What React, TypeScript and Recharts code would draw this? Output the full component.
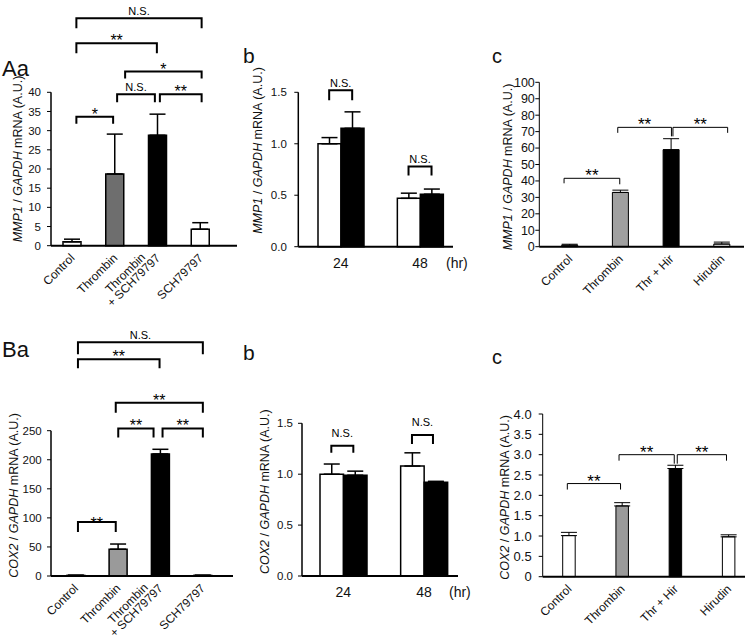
import React from 'react'
import { BarChart, Bar, XAxis, YAxis, ErrorBar, Cell, ReferenceLine } from 'recharts'

const FONT = '"Liberation Sans", Arial, sans-serif'

// categories / tick labels
const groupsA = ['Control', 'Thrombin', 'Thrombin\n+ SCH79797', 'SCH79797']
const groupsB = ['24', '48']
const groupsC = ['Control', 'Thrombin', 'Thr + Hir', 'Hirudin']

// MMP1 row
const mmp1A = [1.0, 18.7, 28.8, 4.3]
const mmp1AErr = [0.7, 10.4, 5.5, 1.7]
const mmp1BCtrl = [1.0, 0.47]
const mmp1BCtrlErr = [0.06, 0.05]
const mmp1BTreat = [1.15, 0.51]
const mmp1BTreatErr = [0.16, 0.05]
const mmp1C = [0.9, 33.0, 59.0, 1.6]
const mmp1CErr = [0.6, 1.4, 6.7, 1.2]

// COX2 row
const cox2A = [1.0, 46, 210, 1.0]
const cox2AErr = [0.4, 9, 8, 0.4]
const cox2BCtrl = [1.0, 1.08]
const cox2BCtrlErr = [0.1, 0.13]
const cox2BTreat = [0.99, 0.92]
const cox2BTreatErr = [0.04, 0.01]
const cox2C = [1.01, 1.74, 2.66, 0.98]
const cox2CErr = [0.08, 0.08, 0.08, 0.05]

// y ticks
const ticksAa = [0, 5, 10, 15, 20, 25, 30, 35, 40]
const ticksRatio = [0, 0.5, 1, 1.5]
const ticksAc = [0, 10, 20, 30, 40, 50, 60, 70, 80, 90, 100]
const ticksBa = [0, 50, 100, 150, 200, 250]
const ticksBc = [0, 0.5, 1, 1.5, 2, 2.5, 3, 3.5, 4]

const one = (names: string[], v: number[], e: number[]) =>
  names.map((name, i) => ({ name, v0: v[i], e0: [0, e[i]] }))
const two = (names: string[], a: number[], ae: number[], b: number[], be: number[]) =>
  names.map((name, i) => ({ name, v0: a[i], e0: [0, ae[i]], v1: b[i], e1: [0, be[i]] }))

type Bracket = {
  from: string
  to: string
  level: number
  label: string
  dx1?: number
  dx2?: number
  drop1?: number
  drop2?: number
  labelDy?: number
}

const bracketsAa: Bracket[] = [
  { from: 'Control', to: 'Thrombin', level: 33.6, label: '*', dx1: 4, dx2: -2, drop1: 7, drop2: 7 },
  { from: 'Thrombin', to: 'Thrombin\n+ SCH79797', level: 39.5, label: 'N.S.', dx1: 2, dx2: -3, drop1: 8, drop2: 8 },
  { from: 'Thrombin\n+ SCH79797', to: 'SCH79797', level: 39.5, label: '**', dx1: 2, dx2: 1, drop1: 8, drop2: 8 },
  { from: 'Thrombin', to: 'SCH79797', level: 45.4, label: '*', dx1: 10, dx2: 1, drop1: 7, drop2: 7 },
  { from: 'Control', to: 'Thrombin\n+ SCH79797', level: 52.8, label: '**', dx1: 4, dx2: -1, drop1: 10, drop2: 10 },
  { from: 'Control', to: 'SCH79797', level: 59.3, label: 'N.S.', dx1: 4, dx2: 1, drop1: 10, drop2: 10 },
]
const bracketsAb: Bracket[] = [
  { from: '24', to: '24', level: 1.52, label: 'N.S.', dx1: -11.5, dx2: 11.5, drop1: 10, drop2: 10 },
  { from: '48', to: '48', level: 0.78, label: 'N.S.', dx1: -11.5, dx2: 11.5, drop1: 9, drop2: 9 },
]
const bracketsAc: Bracket[] = [
  { from: 'Control', to: 'Thrombin', level: 41.6, label: '**', dx1: -6, dx2: -1, drop1: 5, drop2: 6 },
  { from: 'Thrombin', to: 'Thr + Hir', level: 72.6, label: '**', dx1: -3, dx2: 0, drop1: 5.5, drop2: 9 },
  { from: 'Thr + Hir', to: 'Hirudin', level: 72.6, label: '**', dx1: 1.5, dx2: 5.5, drop1: 9, drop2: 5.5 },
]
const bracketsBa: Bracket[] = [
  { from: 'Control', to: 'Thrombin', level: 93, label: '**', dx1: 2, dx2: -2.5, drop1: 10, drop2: 10, labelDy: 4 },
  { from: 'Thrombin', to: 'Thrombin\n+ SCH79797', level: 254, label: '**', dx1: 0, dx2: -7, drop1: 9, drop2: 9 },
  { from: 'Thrombin\n+ SCH79797', to: 'SCH79797', level: 254, label: '**', dx1: 2, dx2: 0, drop1: 9, drop2: 9 },
  { from: 'Thrombin', to: 'SCH79797', level: 298, label: '**', dx1: -2.5, dx2: 0, drop1: 10, drop2: 10 },
  { from: 'Control', to: 'Thrombin\n+ SCH79797', level: 373, label: '**', dx1: 2, dx2: -1, drop1: 9, drop2: 9 },
  { from: 'Control', to: 'SCH79797', level: 402, label: 'N.S.', dx1: 2, dx2: 0, drop1: 12, drop2: 12 },
]
const bracketsBb: Bracket[] = [
  { from: '24', to: '24', level: 1.28, label: 'N.S.', dx1: -12, dx2: 10, drop1: 7, drop2: 7 },
  { from: '48', to: '48', level: 1.385, label: 'N.S.', dx1: -12, dx2: 9, drop1: 9, drop2: 9 },
]
const bracketsBc: Bracket[] = [
  { from: 'Control', to: 'Thrombin', level: 2.29, label: '**', dx1: -2, dx2: -2, drop1: 6, drop2: 6 },
  { from: 'Thrombin', to: 'Thr + Hir', level: 3.0, label: '**', dx1: -3.5, dx2: -1.5, drop1: 6, drop2: 9 },
  { from: 'Thr + Hir', to: 'Hirudin', level: 3.0, label: '**', dx1: 1.5, dx2: -2.5, drop1: 9, drop2: 6 },
]

const fixed1 = (v: number) => v.toFixed(1)
const plain = (v: number) => String(v)
const zeroOr1 = (v: number) => (v === 0 ? '0' : v.toFixed(1))

const RotTick = (props: any) => {
  const { x, y, payload, fontSize } = props
  const lines = String(payload.value).split('\n')
  return (
    <g transform={`translate(${x + 3},${y + 13}) rotate(-45)`}>
      {lines.map((line, i) => {
        const k = i - (lines.length - 1)
        return (
          <text key={i} x={k * 10} y={k * 11} textAnchor="end" fontSize={fontSize} fill="#111" fontFamily={FONT}>
            {line}
          </text>
        )
      })}
    </g>
  )
}

const FlatTick = (props: any) => {
  const { x, y, payload } = props
  return (
    <text x={x} y={y + 21} textAnchor="middle" fontSize={14} fill="#111" fontFamily={FONT}>
      {payload.value}
    </text>
  )
}

interface Series {
  key: string
  errKey: string
  fills: string[]
  size: number
}

interface PanelProps {
  left: number
  top: number
  width: number
  height: number
  axisX: number
  yTopPx: number
  yZeroPx: number
  axisEndX: number
  padL: number
  padR: number
  data: any[]
  series: Series[]
  ticks: number[]
  fmt: (v: number) => string
  gene: string
  yLabelX: number
  yLabelDy: number
  yTickMargin: number
  yTickFont: number
  flatX?: boolean
  brackets: Bracket[]
  thin?: boolean
  starSize: number
  nsGap: number
  hrDx?: number
}

const XH = 40
const YW = 40

const Panel = (p: PanelProps) => {
  const margin = {
    top: p.yTopPx - p.top,
    bottom: p.top + p.height - p.yZeroPx - XH,
    left: p.axisX - p.left - YW,
    right: p.left + p.width - p.axisEndX,
  }
  const lw = p.thin ? 1 : 1.5
  const brW = p.thin ? 1 : 2

  // y title: centre given in page x, shifted from the axis
  const yLabel = (props: any) => {
    const vb = props.viewBox ?? props
    const cx = vb.x + vb.width - (p.axisX - p.yLabelX) + 4.5
    const cy = vb.y + vb.height / 2 + p.yLabelDy
    return (
      <text
        x={cx}
        y={cy}
        transform={`rotate(-90 ${cx} ${cy})`}
        textAnchor="middle"
        fontSize={12.5}
        fill="#111"
        fontFamily={FONT}
      >
        <tspan fontStyle="italic">{p.gene}</tspan>
        <tspan> / </tspan>
        <tspan fontStyle="italic">GAPDH</tspan>
        <tspan> mRNA (A.U.)</tspan>
      </text>
    )
  }

  const hrLabel = (props: any) => {
    const vb = props.viewBox ?? props
    return (
      <text x={vb.x + vb.width + (p.hrDx ?? 0)} y={vb.y + 21} fontSize={14} fill="#111" fontFamily={FONT}>
        (hr)
      </text>
    )
  }

  const bracketShape = (b: Bracket) => (sp: any) => {
    const x1 = sp.x1 + (b.dx1 ?? 0)
    const x2 = sp.x2 + (b.dx2 ?? 0)
    const y = sp.y1
    const star = b.label.includes('*')
    const ty = star ? y + 3 + (b.labelDy ?? 0) : y - p.nsGap
    return (
      <g>
        <path
          d={`M${x1},${y + (b.drop1 ?? 8)}V${y}H${x2}V${y + (b.drop2 ?? 8)}`}
          fill="none"
          stroke="#000"
          strokeWidth={brW}
        />
        <text
          x={(x1 + x2) / 2}
          y={ty}
          textAnchor="middle"
          fontSize={star ? p.starSize : 11}
          fill="#000"
          fontFamily={FONT}
        >
          {b.label}
        </text>
      </g>
    )
  }

  return (
    <div style={{ position: 'absolute', left: p.left, top: p.top }}>
      <BarChart width={p.width} height={p.height} data={p.data} margin={margin} barGap={0}>
        <XAxis
          dataKey="name"
          height={XH}
          tickLine={false}
          tickSize={0}
          tickMargin={0}
          interval={0}
          padding={{ left: p.padL, right: p.padR }}
          axisLine={{ stroke: '#000', strokeWidth: 2 }}
          tick={p.flatX ? (tp: any) => <FlatTick {...tp} /> : (tp: any) => <RotTick {...tp} fontSize={12} />}
          label={p.hrDx !== undefined ? hrLabel : undefined}
        />
        <YAxis
          width={YW}
          domain={[0, p.ticks[p.ticks.length - 1]]}
          ticks={p.ticks}
          interval={0}
          tickFormatter={p.fmt}
          tickSize={4}
          tickMargin={p.yTickMargin}
          axisLine={{ stroke: '#000', strokeWidth: lw }}
          tickLine={{ stroke: '#000', strokeWidth: 1 }}
          tick={{ fontSize: p.yTickFont, fill: '#111', fontFamily: FONT }}
          label={yLabel}
        />
        {p.series.map((s) => (
          <Bar key={s.key} dataKey={s.key} barSize={s.size} stroke="#000" strokeWidth={lw} isAnimationActive={false}>
            {p.data.map((_, i) => (
              <Cell key={i} fill={s.fills[i % s.fills.length]} />
            ))}
            <ErrorBar dataKey={s.errKey} width={8} stroke="#000" strokeWidth={lw} />
          </Bar>
        ))}
        {p.brackets.map((b, i) => (
          <ReferenceLine
            key={i}
            segment={[
              { x: b.from, y: b.level },
              { x: b.to, y: b.level },
            ]}
            ifOverflow="visible"
            shape={bracketShape(b)}
          />
        ))}
      </BarChart>
    </div>
  )
}

const Titles = () => (
  <svg width={745} height={636} style={{ position: 'absolute', left: 0, top: 0 }}>
    <g fontFamily={FONT} fill="#111">
      <text x={2} y={76} fontSize={22}>Aa</text>
      <text x={243} y={63} fontSize={21}>b</text>
      <text x={492} y={63} fontSize={20}>c</text>
      <text x={2} y={357} fontSize={22}>Ba</text>
      <text x={243} y={360} fontSize={21}>b</text>
      <text x={492} y={364} fontSize={20}>c</text>
    </g>
  </svg>
)

export default function App() {
  return (
    <div
      style={{
        position: 'absolute',
        left: 0,
        top: 0,
        width: 745,
        height: 636,
        overflow: 'hidden',
        background: '#fff',
        fontFamily: FONT,
      }}
    >
      <Titles />
      <Panel
        left={0} top={0} width={245} height={320}
        axisX={51} yTopPx={92.3} yZeroPx={245.7} axisEndX={237} padL={0} padR={15}
        data={one(groupsA, mmp1A, mmp1AErr)}
        series={[{ key: 'v0', errKey: 'e0', fills: ['#fff', '#6e6e6e', '#000', '#fff'], size: 18 }]}
        ticks={ticksAa} fmt={plain} gene="MMP1" yLabelX={17} yLabelDy={-10}
        yTickMargin={6} yTickFont={11.5} brackets={bracketsAa} starSize={16} nsGap={3}
      />
      <Panel
        left={240} top={0} width={250} height={300}
        axisX={298.3} yTopPx={92.3} yZeroPx={246.7} axisEndX={453} padL={2.7} padR={-6.7}
        data={two(groupsB, mmp1BCtrl, mmp1BCtrlErr, mmp1BTreat, mmp1BTreatErr)}
        series={[
          { key: 'v0', errKey: 'e0', fills: ['#fff'], size: 23 },
          { key: 'v1', errKey: 'e1', fills: ['#000'], size: 23 },
        ]}
        ticks={ticksRatio} fmt={fixed1} gene="MMP1" yLabelX={257} yLabelDy={-19}
        yTickMargin={7.5} yTickFont={11.5} flatX hrDx={-7} brackets={bracketsAb} starSize={16} nsGap={3}
      />
      <Panel
        left={490} top={0} width={255} height={310}
        axisX={539.3} yTopPx={82.3} yZeroPx={246.7} axisEndX={744} padL={5.4} padR={-3.5}
        data={one(groupsC, mmp1C, mmp1CErr)}
        series={[{ key: 'v0', errKey: 'e0', fills: ['#fff', '#a0a0a0', '#000', '#fff'], size: 16 }]}
        ticks={ticksAc} fmt={plain} gene="MMP1" yLabelX={507} yLabelDy={2.5}
        yTickMargin={0.5} yTickFont={12.5} thin brackets={bracketsAc} starSize={17} nsGap={3}
      />
      <Panel
        left={0} top={310} width={245} height={326}
        axisX={51} yTopPx={430.7} yZeroPx={576} axisEndX={233} padL={3.8} padR={9}
        data={one(groupsA, cox2A, cox2AErr)}
        series={[{ key: 'v0', errKey: 'e0', fills: ['#fff', '#9a9a9a', '#000', '#fff'], size: 18 }]}
        ticks={ticksBa} fmt={plain} gene="COX2" yLabelX={14} yLabelDy={-8}
        yTickMargin={5.3} yTickFont={11.5} brackets={bracketsBa} starSize={16} nsGap={3}
      />
      <Panel
        left={240} top={310} width={250} height={326}
        axisX={302} yTopPx={423.3} yZeroPx={576} axisEndX={458} padL={1} padR={-6.3}
        data={two(groupsB, cox2BCtrl, cox2BCtrlErr, cox2BTreat, cox2BTreatErr)}
        series={[
          { key: 'v0', errKey: 'e0', fills: ['#fff'], size: 23.5 },
          { key: 'v1', errKey: 'e1', fills: ['#000'], size: 23.5 },
        ]}
        ticks={ticksRatio} fmt={fixed1} gene="COX2" yLabelX={265} yLabelDy={-8}
        yTickMargin={5} yTickFont={11.5} flatX hrDx={-9} brackets={bracketsBb} starSize={16} nsGap={9}
      />
      <Panel
        left={490} top={310} width={255} height={326}
        axisX={542.7} yTopPx={414} yZeroPx={576.7} axisEndX={745} padL={0} padR={-10.6}
        data={one(groupsC, cox2C, cox2CErr)}
        series={[{ key: 'v0', errKey: 'e0', fills: ['#fff', '#9a9a9a', '#000', '#fff'], size: 12.5 }]}
        ticks={ticksBc} fmt={zeroOr1} gene="COX2" yLabelX={505} yLabelDy={2}
        yTickMargin={7} yTickFont={13} thin brackets={bracketsBc} starSize={17} nsGap={3}
      />
    </div>
  )
}
